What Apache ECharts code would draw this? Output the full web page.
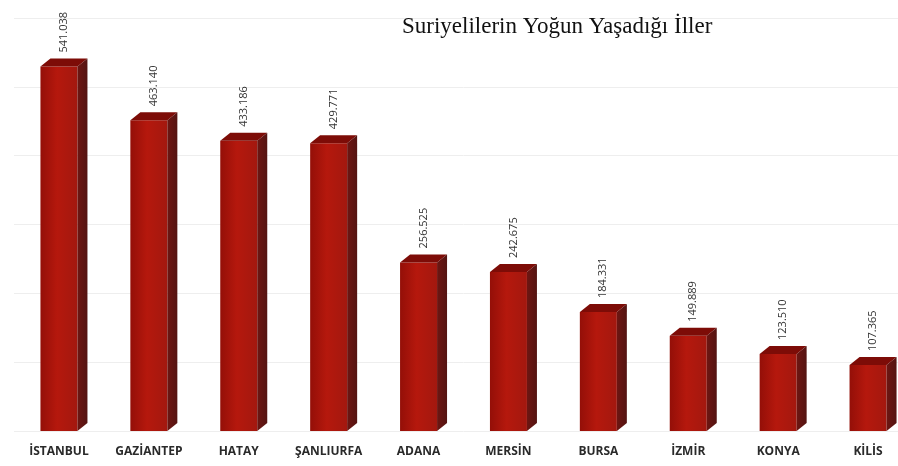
<!DOCTYPE html>
<html><head><meta charset="utf-8">
<script src="https://cdn.jsdelivr.net/npm/echarts@6/dist/echarts.min.js"></script>
<style>html,body{margin:0;padding:0;background:#fff;overflow:hidden;width:898px;height:466px}#c{width:913px;height:466px}</style>
</head><body><div id="c"></div>
<script>
const titleText = 'Suriyelilerin Yoğun Yaşadığı İller';
const categories = ['İSTANBUL','GAZİANTEP','HATAY','ŞANLIURFA','ADANA','MERSİN','BURSA','İZMİR','KONYA','KİLİS'];
const values = [541038,463140,433186,429771,256525,242675,184331,149889,123510,107365];

function fmt(v){ return String(v).replace(/\B(?=(\d{3})+(?!\d))/g, '.'); }

const chart = echarts.init(document.getElementById('c'));
const HW = 18.5, DX = 10, DY = 8;
chart.setOption({
  animation:false,
  backgroundColor:'#fff',
  title:{text:titleText, left:397, top:10, textStyle:{fontFamily:'Liberation Serif', fontWeight:'normal', fontSize:23, color:'#111'}},
  grid:{left:14, right:0, top:18, bottom:35},
  xAxis:{type:'category', data:categories, axisLine:{show:false}, axisTick:{show:false},
    axisLabel:{margin:15, fontFamily:'Open Sans', fontWeight:'bold', fontSize:12, color:'#2a2a2a'}},
  yAxis:{type:'value', min:0, max:600000, interval:100000, axisLabel:{show:false}, axisLine:{show:false}, axisTick:{show:false},
    splitLine:{lineStyle:{color:'#eeeeee', width:1}}},
  series:[{
    type:'custom',
    encode:{x:0, y:1},
    data: values.map((v,i)=>[i,v]),
    renderItem:function(params, api){
      const idx = api.value(0), val = api.value(1);
      const top = api.coord([idx, val]);
      const base = api.coord([idx, 0])[1];
      const cx = top[0], yTop = top[1], fTop = yTop + DY;
      const L = cx - HW, R = cx + HW;
      return {type:'group', children:[
        {type:'rect', shape:{x:L, y:fTop, width:R-L, height:base-fTop},
          style:{fill:new echarts.graphic.LinearGradient(0,0,1,0,[{offset:0,color:'#940f08'},{offset:0.45,color:'#b5180d'},{offset:1,color:'#a3180f'}])}},
        {type:'polygon', shape:{points:[[L,fTop],[L+DX,yTop],[R+DX,yTop],[R,fTop]]}, style:{fill:'#7d0c07'}},
        {type:'polygon', shape:{points:[[R,fTop],[R+DX,yTop],[R+DX,base-DY],[R,base]]},
          style:{fill:new echarts.graphic.LinearGradient(0,0,1,0,[{offset:0,color:'#6e1612'},{offset:1,color:'#541412'}])}},
        {type:'text', x:cx+5, y:yTop-6, rotation:Math.PI/2,
          style:{text:fmt(val), fontFamily:'Open Sans', fontSize:11, fill:'#333', align:'left', verticalAlign:'middle'}}
      ]};
    }
  }]
});
</script></body></html>
